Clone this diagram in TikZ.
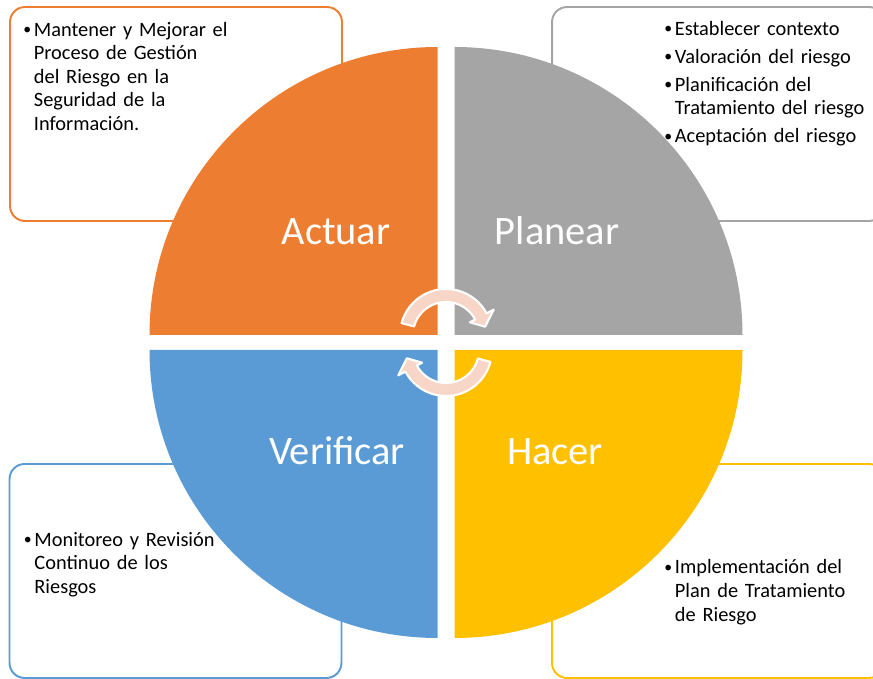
\documentclass[tikz,border=0pt]{standalone}
\usepackage{fontspec}
\setmainfont{Carlito}
\usepackage{xcolor}
\usepackage{tikz}
\usetikzlibrary{positioning, calc}
\definecolor{actorange}{HTML}{ED7D31}
\definecolor{plangray}{HTML}{A5A5A5}
\definecolor{verblue}{HTML}{5B9BD5}
\definecolor{hacyellow}{HTML}{FFC000}
\definecolor{turnpink}{RGB}{247,213,199}
\tikzstyle{box} = [rectangle, rounded corners = 0.3cm, line width = 1.1pt, minimum width = 6.64cm, minimum height = 4.28cm, fill = white]
\tikzstyle{act box} = [box, draw = actorange]
\tikzstyle{plan box} = [box, draw = plangray]
\tikzstyle{ver box} = [box, draw = verblue]
\tikzstyle{hac box} = [box, draw = hacyellow]
\tikzstyle{phase} = [anchor = base, inner sep = 0pt, text = white, font = \fontsize{23}{28}\selectfont]
\tikzstyle{note} = [anchor = north west, inner sep = 0pt, text width = 4.6cm, align = left, font = \fontsize{11.6}{13.4}\selectfont, execute at begin node = \setlength{\parskip}{2.6pt}]
\tikzstyle{turn} = [fill = turnpink, draw = white, line width = 1.2pt, line join = round]
\newcommand{\bitem}[1]{\par\hangindent = 0.21cm\hangafter = 1\noindent\strut\makebox[0.21cm][l]{\raisebox{0.15ex}{\fontsize{9}{9}\selectfont\textbullet}}#1\par}

\begin{document}
\begin{tikzpicture}[x = 0.02cm, y = 0.02cm]
        % frame
        \useasboundingbox (0, 0) rectangle (873, 679);
        \clip (0, 0) rectangle (873, 679);

        % draw boxes
        \node[act box] (actbox) at (176, 565) {};
        \node[plan box] (planbox) at (718, 565) {};
        \node[ver box] (verbox) at (175.5, 108) {};
        \node[hac box] (hacbox) at (718, 108) {};

        % draw quarters
        \fill[actorange] (437.5, 344) -- ++(-288, 0) arc[start angle = 180, end angle = 90, radius = 288] -- cycle;
        \fill[plangray] (454.5, 344) -- ++(0, 288) arc[start angle = 90, end angle = 0, radius = 288] -- cycle;
        \fill[verblue] (437.5, 329) -- ++(-288, 0) arc[start angle = 180, end angle = 270, radius = 288] -- cycle;
        \fill[hacyellow] (454.5, 329) -- ++(288, 0) arc[start angle = 0, end angle = -90, radius = 288] -- cycle;

        % quarter labels
        \node[phase] (actuar) at (336, 434) {Actuar};
        \node[phase] (planear) at (557, 434) {Planear};
        \node[phase] (verificar) at (337, 214) {Verificar};
        \node[phase] (hacer) at (555, 214) {Hacer};

        % notes in the boxes
        \node[note] (actnote) [below right = 0.03cm and 0.28cm of actbox.north west]
            {\bitem{Mantener y Mejorar el\newline Proceso de Gestión\newline del Riesgo en la\newline Seguridad de la\newline Información.}};
        \node[note] (plannote) [below right = 0.01cm and 2.26cm of planbox.north west]
            {\bitem{Establecer contexto}\bitem{Valoración del riesgo}\bitem{Planificación del\newline Tratamiento del riesgo}\bitem{Aceptación del riesgo}};
        \node[note] (vernote) [below right = 1.09cm and 0.3cm of verbox.north west]
            {\bitem{Monitoreo y Revisión\newline Continuo de los\newline Riesgos}};
        \node[note] (hacnote) [below right = 1.65cm and 2.26cm of hacbox.north west]
            {\bitem{Implementación del\newline Plan de Tratamiento\newline de Riesgo}};

        % draw turning arrows
        \coordinate (ctop) at (446, 344);
        \coordinate (cbot) at (446, 329);
        \filldraw[turn] ($(ctop) + (165:46)$) arc[start angle = 165, end angle = 28, radius = 46]
            -- ($(ctop) + (28:54)$) -- ($(ctop) + (12:40)$) -- ($(ctop) + (28:27)$) -- ($(ctop) + (28:33)$)
            arc[start angle = 28, end angle = 165, radius = 33] -- cycle;
        \filldraw[turn] ($(cbot) + (-15:46)$) arc[start angle = -15, end angle = -152, radius = 46]
            -- ($(cbot) + (-152:54)$) -- ($(cbot) + (-168:40)$) -- ($(cbot) + (-152:27)$) -- ($(cbot) + (-152:33)$)
            arc[start angle = -152, end angle = -15, radius = 33] -- cycle;
    \end{tikzpicture}
\end{document}
